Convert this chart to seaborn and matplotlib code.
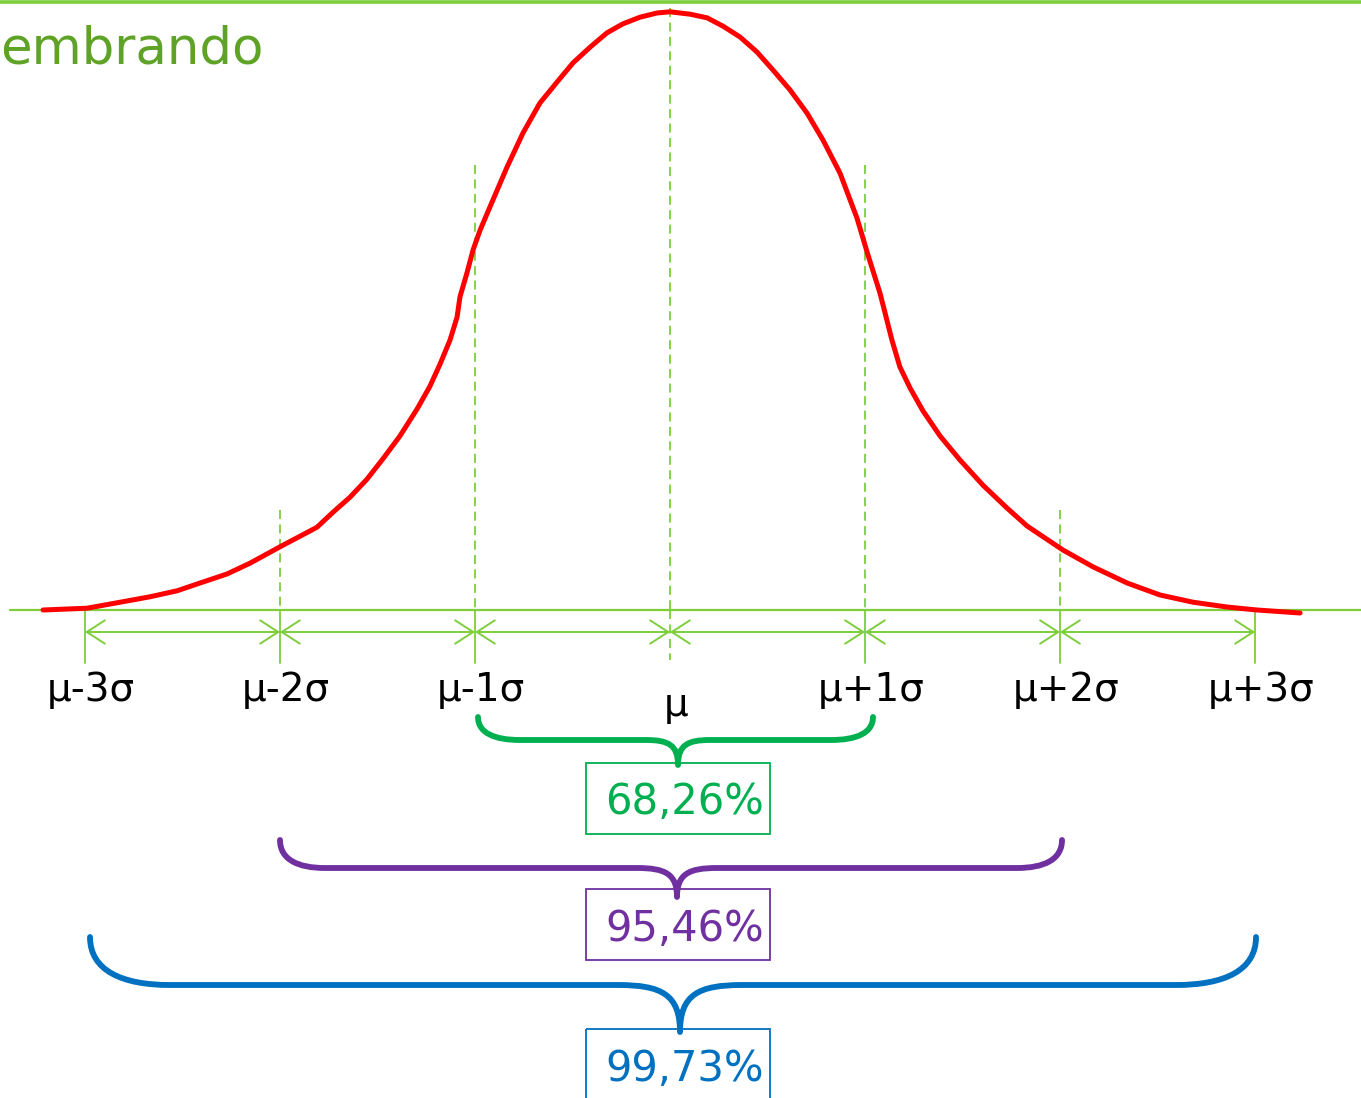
import numpy as np
import pandas as pd
import seaborn as sns
import matplotlib.pyplot as plt
from matplotlib.path import Path
from matplotlib.patches import PathPatch, Rectangle

# curve: x in sigma units, height relative to the peak
curve_x = [-3.215, -2.990, -2.836, -2.667, -2.528, -2.410, -2.272, -2.154, -1.985,
           -1.897, -1.810, -1.728, -1.641, -1.554, -1.472, -1.385, -1.297, -1.231,
           -1.179, -1.128, -1.092, -1.077, -1.041, -1.010, -0.974, -0.923,
           -0.836, -0.754, -0.667, -0.579, -0.497, -0.410, -0.323, -0.241, -0.154,
           -0.067, 0.000, 0.103, 0.190, 0.272, 0.359, 0.446, 0.528, 0.615, 0.703,
           0.785, 0.872, 0.959, 1.015, 1.077, 1.103, 1.138, 1.179, 1.231, 1.297,
           1.385, 1.487, 1.605, 1.728, 1.831, 2.015, 2.169, 2.344, 2.513, 2.682,
           2.856, 3.010, 3.231]
curve_y = [0.000, 0.003, 0.012, 0.022, 0.032, 0.045, 0.060, 0.078, 0.108,
           0.123, 0.138, 0.163, 0.188, 0.218, 0.252, 0.290, 0.335, 0.373,
           0.410, 0.450, 0.488, 0.522, 0.562, 0.600, 0.633, 0.672,
           0.738, 0.795, 0.845, 0.880, 0.912, 0.938, 0.962, 0.977, 0.988,
           0.995, 0.997, 0.993, 0.987, 0.973, 0.955, 0.930, 0.900, 0.867, 0.828,
           0.783, 0.728, 0.653, 0.592, 0.528, 0.495, 0.450, 0.405, 0.370, 0.332,
           0.290, 0.250, 0.208, 0.170, 0.140, 0.100, 0.072, 0.045, 0.025, 0.013,
           0.005, 0.000, -0.005]

sigma_pos = [-3, -2, -1, 0, 1, 2, 3]
sigma_labels = ["μ-3σ", "μ-2σ", "μ-1σ", "μ", "μ+1σ", "μ+2σ", "μ+3σ"]

# coverage of each interval
spans = [1, 2, 3]
pct_labels = ["68,26%", "95,46%", "99,73%"]

LIGHT = "#7DCE3A"
RED = "#FF0000"
SPAN_COLORS = ["#00B050", "#7030A0", "#0070C0"]

W, H = 1361, 1098
PX_SIG = 195.0
X0 = 670.0
Y0 = 610.0
PX_H = 600.0

sns.set_theme(style="white")
plt.rcParams["font.family"] = ["DejaVu Sans"]

fig = plt.figure(figsize=(W / 100, H / 100), dpi=100)
ax = fig.add_axes([0, 0, 1, 1])
ax.set_xlim(-X0 / PX_SIG, (W - X0) / PX_SIG)
ax.set_ylim((Y0 - H) / PX_H, Y0 / PX_H)
ax.axis("off")

def py(v):
    # pixel row -> data height
    return (Y0 - v) / PX_H

df = pd.DataFrame({"x": curve_x, "y": curve_y})
sns.lineplot(data=df, x="x", y="y", ax=ax, color=RED, lw=3.6, sort=False,
             solid_capstyle="round", solid_joinstyle="round", zorder=5)

# baseline and top bar
ax.plot([(10 - X0) / PX_SIG, (W - X0) / PX_SIG], [0, 0], color=LIGHT, lw=1.6, zorder=3)
ax.axhline(py(1.5), color=LIGHT, lw=2.6)

# dashed verticals and tick marks
dash_top = {0: 8, 1: 165, 2: 510}
for s in sigma_pos:
    if abs(s) in dash_top:
        ax.plot([s, s], [py(dash_top[abs(s)]), 0], color=LIGHT, lw=1.3,
                ls=(0, (5, 3)), zorder=2)
    if s == 0:
        ax.plot([s, s], [0, py(660)], color=LIGHT, lw=1.3, ls=(0, (5, 3)), zorder=2)
    else:
        ax.plot([s, s], [0, py(663)], color=LIGHT, lw=1.3, zorder=2)

# double arrows between the sigma marks
for a, b in zip(sigma_pos[:-1], sigma_pos[1:]):
    ax.annotate("", xy=(b, py(632)), xytext=(a, py(632)),
                arrowprops=dict(arrowstyle="<->,head_length=0.65,head_width=0.42",
                                mutation_scale=20, color=LIGHT, lw=1.4,
                                shrinkA=0, shrinkB=0))

for s, lab in zip(sigma_pos, sigma_labels):
    yy = py(705) if s == 0 else py(690)
    ax.text(s + 0.03, yy, lab, ha="center", va="center", fontsize=28, color="black")

# overlay in pixel coordinates for braces and boxes
ov = fig.add_axes([0, 0, 1, 1])
ov.set_xlim(0, W)
ov.set_ylim(H, 0)
ov.axis("off")
ov.patch.set_alpha(0)

ov.text(0, 50, "embrando", ha="left", va="center", fontsize=37, color="#5EA226")

def brace(x0, x1, xm, ytop, yh, ytip, rx, a, color, lw):
    verts = [(x0, ytop), (x0, yh - (yh - ytop) * 0.3), (x0 + rx * 0.4, yh), (x0 + rx, yh),
             (xm - a, yh),
             (xm - a * 0.3, yh), (xm, yh + (ytip - yh) * 0.2), (xm, ytip),
             (xm, yh + (ytip - yh) * 0.2), (xm + a * 0.3, yh), (xm + a, yh),
             (x1 - rx, yh),
             (x1 - rx * 0.4, yh), (x1, yh - (yh - ytop) * 0.3), (x1, ytop)]
    codes = [Path.MOVETO, Path.CURVE4, Path.CURVE4, Path.CURVE4,
             Path.LINETO,
             Path.CURVE4, Path.CURVE4, Path.CURVE4,
             Path.CURVE4, Path.CURVE4, Path.CURVE4,
             Path.LINETO,
             Path.CURVE4, Path.CURVE4, Path.CURVE4]
    ov.add_patch(PathPatch(Path(verts, codes), fill=False, edgecolor=color, lw=lw,
                           capstyle="round", joinstyle="round"))

brace_geom = [
    (478, 873, 678, 717, 740, 765, 42, 32),
    (280, 1062, 677, 840, 868, 897, 45, 40),
    (90, 1256, 680, 937, 985, 1032, 80, 62),
]
box_rows = [(763, 834), (889, 960), (1029, 1110)]
text_rows = [802, 929, 1069]

for (g, color, pct, (b0, b1), ty) in zip(brace_geom, SPAN_COLORS, pct_labels, box_rows, text_rows):
    brace(*g, color=color, lw=4.2)
    ov.add_patch(Rectangle((586, b0), 184, b1 - b0, fill=False, edgecolor=color, lw=1.3))
    ov.text(685, ty, pct, ha="center", va="center", fontsize=30, color=color)

fig.savefig("out.png", dpi=100)
